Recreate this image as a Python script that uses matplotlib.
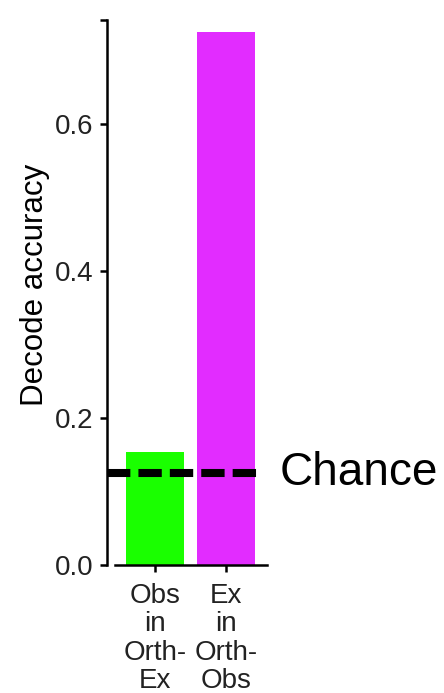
import numpy as np
import matplotlib
matplotlib.use('Agg')
from matplotlib import pyplot as plt

plt.rcParams['font.family'] = ['Liberation Sans', 'DejaVu Sans']

# decoding accuracy of each projection, chance = 1/8
labels = ['Obs\nin\nOrth-\nEx', 'Ex\nin\nOrth-\nObs']
accuracy = [0.154, 0.725]
bar_colors = ['#1aff00', '#e22cff']
chance = 0.125
yticks = [0.0, 0.2, 0.4, 0.6]
ytop = 0.7415

fig = plt.figure(figsize=(4.44, 6.93), dpi=100)
ax = fig.add_axes([107 / 444, 1 - 565 / 693, (267 - 107) / 444, (565 - 20) / 693])

x = np.arange(len(labels))
ax.bar(x, accuracy, width=0.81, color=bar_colors, zorder=1)
ax.hlines(chance, -0.67, 1.43, colors='black', linewidth=5.8,
          linestyles=(0, (2.9, 1.0)), zorder=3)
ax.text(1.75, chance, 'Chance', fontsize=33, va='center', ha='left', clip_on=False)

ax.set_xlim(-0.67, 1.57)
ax.set_ylim(0, ytop)
ax.set_xticks(x)
ax.set_xticklabels(labels, fontsize=20, linespacing=1.12)
ax.set_yticks(yticks + [ytop])
ax.set_yticklabels(['%.1f' % v for v in yticks] + [''], fontsize=20)
ax.set_ylabel('Decode accuracy', fontsize=22.5)
ax.yaxis.set_label_coords(-0.355, 0.514)

for side in ['top', 'right']:
    ax.spines[side].set_visible(False)
for side in ['left', 'bottom']:
    ax.spines[side].set_linewidth(1.8)
ax.spines['bottom'].set_bounds(-0.56, 1.57)
ax.tick_params(width=1.8, length=5, direction='out', pad=5, colors='black')
ax.tick_params(axis='x', pad=8)
ax.tick_params(axis='both', labelcolor='#222222')

plt.savefig('out.png', dpi=100)
